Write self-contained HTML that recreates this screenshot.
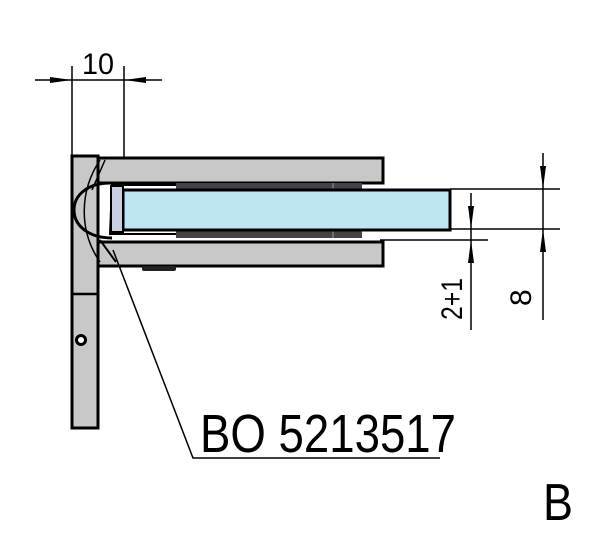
<!DOCTYPE html>
<html><head><style>body{margin:0;background:#fff}svg{display:block}</style></head><body>
<svg width="600" height="543" viewBox="0 0 600 543" xmlns="http://www.w3.org/2000/svg" font-family="Liberation Sans, sans-serif">
<rect x="72" y="156" width="26" height="272" fill="#c8c8c8" stroke="#000" stroke-width="3"/>
<line x1="72" y1="294" x2="98" y2="294" stroke="#000" stroke-width="2.5"/>
<circle cx="81" cy="340" r="4.5" fill="#fff" stroke="#000" stroke-width="3"/>
<rect x="98" y="158" width="285" height="25" fill="#c8c8c8" stroke="#000" stroke-width="3"/>
<rect x="98" y="242" width="285" height="24" fill="#c8c8c8" stroke="#000" stroke-width="3"/>
<rect x="142" y="266" width="34" height="5" rx="2" fill="#222"/>
<rect x="176" y="183" width="186" height="8" fill="#444"/>
<rect x="176" y="229" width="186" height="9" fill="#444"/>
<line x1="333" y1="183" x2="333" y2="191" stroke="#999"/>
<line x1="333" y1="229" x2="333" y2="238" stroke="#999"/>
<rect x="123" y="190" width="327" height="40" fill="#bfe4f2" stroke="#000" stroke-width="3"/>
<path d="M176 185 L112 185 L110 234 L176 234" fill="none" stroke="#000" stroke-width="2"/>
<rect x="111" y="186" width="12" height="46" fill="#c8d0e0" stroke="#000" stroke-width="2"/>
<path d="M110 183 C88 183 74 195 74 210 C74 225 88 238 112 238" fill="none" stroke="#000" stroke-width="3"/>
<path d="M100 160 C80 190 78 230 100 262" fill="none" stroke="#000" stroke-width="1.5"/>
<path d="M105 160 L92 190" stroke="#000" stroke-width="1.5"/>
<path d="M100 240 L116 262" stroke="#000" stroke-width="2"/>
<polyline points="113,250 193,458 440,458" fill="none" stroke="#000" stroke-width="1.5"/>
<text x="200" y="452" font-size="54" textLength="256" lengthAdjust="spacingAndGlyphs">BO 5213517</text>
<text x="543" y="520" font-size="52" textLength="30" lengthAdjust="spacingAndGlyphs">B</text>
<g stroke="#000" stroke-width="1.5">
<line x1="72" y1="66" x2="72" y2="158"/><line x1="124" y1="66" x2="124" y2="158"/>
<line x1="35" y1="80" x2="162" y2="80"/>
<line x1="450" y1="189" x2="560" y2="189"/><line x1="450" y1="229" x2="560" y2="229"/>
<line x1="380" y1="240" x2="488" y2="240"/>
<line x1="543" y1="153" x2="543" y2="320"/>
<line x1="471" y1="193" x2="471" y2="330"/>
</g>
<polygon points="72,80 50,77 50,83" fill="#000"/>
<polygon points="124,80 146,77 146,83" fill="#000"/>
<polygon points="543,189 540,166 546,166" fill="#000"/>
<polygon points="543,229 540,252 546,252" fill="#000"/>
<polygon points="471,229 468,206 474,206" fill="#000"/>
<polygon points="471,240 468,263 474,263" fill="#000"/>
<text x="82" y="74" font-size="30" textLength="32" lengthAdjust="spacingAndGlyphs">10</text>
<text transform="translate(462,320) rotate(-90)" font-size="30" textLength="42" lengthAdjust="spacingAndGlyphs">2+1</text>
<text transform="translate(531,306) rotate(-90)" font-size="30">8</text>
</svg>
</body></html>
